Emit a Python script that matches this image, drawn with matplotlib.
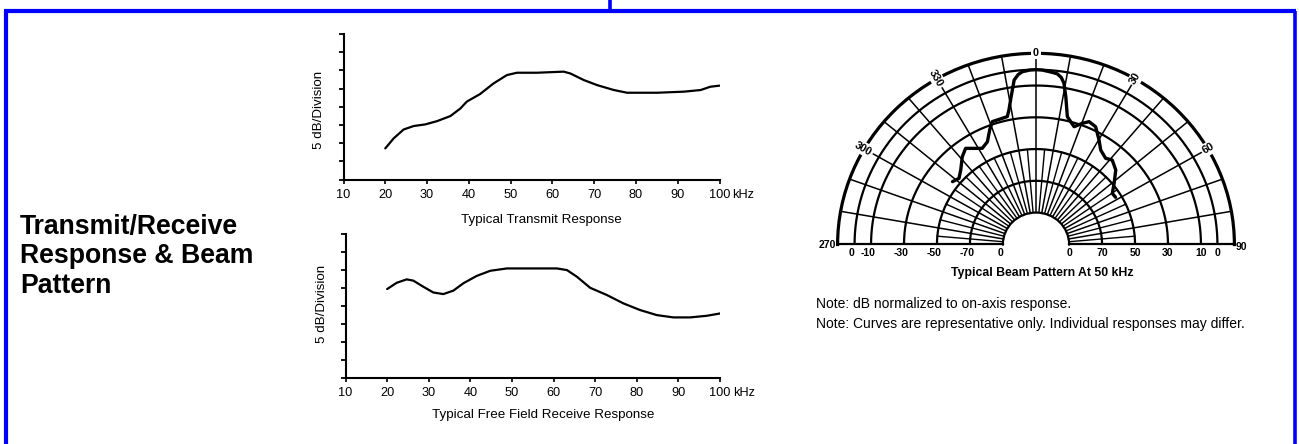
import matplotlib
matplotlib.use("Agg")
import matplotlib.pyplot as plt
import numpy as np
from matplotlib.lines import Line2D

W, H = 1299, 444
plt.rcParams['font.family'] = ['Liberation Sans', 'DejaVu Sans']

# ---------------- data ----------------
freq_ticks = [10, 20, 30, 40, 50, 60, 70, 80, 90, 100]
freq_tick_labels = ['10', '20', '30', '40', '50', '60', '70', '80', '90', '100']

# Typical Transmit Response (level in divisions, 5 dB/division)
tx_freq = [20, 22, 24.4, 26.8, 29.6, 32.4, 35.6, 38, 39.5, 42.7, 45.9, 49.1, 51.5,
           56.3, 62.7, 64.3, 67.5, 70.7, 74.7, 77.9, 85.1, 91.5, 95.5, 97.8, 100]
tx_level = [1.71, 2.26, 2.75, 2.94, 3.03, 3.21, 3.49, 3.91, 4.28, 4.70, 5.28, 5.74, 5.87,
            5.87, 5.93, 5.83, 5.47, 5.19, 4.92, 4.77, 4.77, 4.83, 4.92, 5.10, 5.16]

# Typical Free Field Receive Response
rx_freq = [20, 22.3, 24.7, 26.3, 28.7, 31.1, 33.5, 35.9, 38.3, 41.5, 44.8, 48.8, 54.4,
           60.8, 63.2, 65.6, 68.8, 72.8, 76.8, 80.8, 84.8, 88.8, 92.8, 96.8, 100]
rx_level = [4.93, 5.28, 5.47, 5.40, 5.06, 4.74, 4.65, 4.84, 5.25, 5.66, 5.95, 6.08, 6.08,
            6.08, 5.99, 5.62, 5.00, 4.60, 4.13, 3.76, 3.48, 3.35, 3.35, 3.44, 3.57]

# Typical Beam Pattern At 50 kHz (angle in degrees, level in dB)
beam_angle = [-52, -48.3, -44.2, -39, -35.2, -31.9, -28.3, -24.5, -21.3, -18.9, -15.9,
              -12.2, -11, -9.2, -7.3, -5.8, -4.4, -2, 0, 2, 4.4, 6.8, 8.3, 9.5, 11, 13.3,
              17.3, 20.2, 22.6, 26, 30.2, 33.4, 37.9, 41, 45.9, 50.9, 55.2, 58.4]
beam_db = [-45.8, -47.5, -44.6, -39.0, -36.0, -38.8, -41.3, -39.0, -32.7, -28.3, -28.2,
           -27.7, -23.9, -15.8, -5.7, -2.6, -1.0, -0.2, 0.0, -0.2, -1.0, -1.8, -3.8, -7.2,
           -15.3, -27.4, -32.4, -28.8, -26.3, -27.6, -34.0, -38.8, -41.3, -39.6, -42.7,
           -49.0, -53.7, -53.4]

ring_db = [0, -10, -30, -50, -70]
ring_label_db = [0, -10, -30, -50, -70, -90]
ring_labels_left = ['0', '-10', '-30', '-50', '-70', '0']
ring_labels_right = ['0', '10', '30', '50', '70', '0']
angle_label_pos = [0, 30, 60, -30, -60]
angle_label_txt = ['0', '30', '60', '330', '300']

# ---------------- figure ----------------
fig = plt.figure(figsize=(W / 100, H / 100), dpi=100)


def fx(x):
    return x / W


def fy(y):
    return 1 - y / H


def rect(l, t, r, b):
    return [fx(l), fy(b), (r - l) / W, (b - t) / H]


# blue frame
blue = (0, 0, 1)
frame_lines = [([6, 6], [11, 445], 3.0), ([1294.5, 1294.5], [11, 445], 2.6),
               ([4, 1296], [11, 11], 3.0), ([610, 610], [0, 11], 2.6)]
for xs, ys, lw in frame_lines:
    fig.add_artist(Line2D([fx(v) for v in xs], [fy(v) for v in ys],
                          color=blue, lw=lw, transform=fig.transFigure,
                          solid_capstyle='butt'))

# left title
fig.text(fx(20), fy(214), 'Transmit/Receive\nResponse & Beam\nPattern',
         fontsize=19.2, fontweight='bold', ha='left', va='top', linespacing=1.17)


def resp_chart(box, freqs, levels, title, title_xy, ylab_xy):
    l, t, r, b = box
    ax = fig.add_axes(rect(l, t, r, b))
    ax.plot(freqs, levels, color='black', lw=1.6, solid_capstyle='round',
            solid_joinstyle='round')
    ax.set_xlim(10, 100)
    ax.set_ylim(0, 8)
    for s in ['top', 'right']:
        ax.spines[s].set_visible(False)
    for s in ['left', 'bottom']:
        ax.spines[s].set_linewidth(1.5)
    ax.set_yticks(range(9))
    ax.set_yticklabels([])
    ax.tick_params(axis='y', direction='out', length=3.5, width=1.3)
    ax.set_xticks(freq_ticks)
    ax.set_xticklabels(freq_tick_labels)
    ax.tick_params(axis='x', direction='out', length=3, width=1.2, pad=3.5,
                   labelsize=9.2)
    ax.patch.set_alpha(0)
    fig.text(fx(r + 13), fy(b + 15.5), 'kHz', fontsize=9.2, ha='left', va='center')
    fig.text(fx(title_xy[0]), fy(title_xy[1]), title, fontsize=9.6, ha='center',
             va='center')
    fig.text(fx(ylab_xy[0]), fy(ylab_xy[1]), '5 dB/Division', fontsize=9.6,
             rotation=90, ha='center', va='center')
    return ax


resp_chart((343.5, 34, 719.5, 179.5), tx_freq, tx_level,
           'Typical Transmit Response', (541.7, 220), (318.5, 110))
resp_chart((345.5, 234, 720, 377.5), rx_freq, rx_level,
           'Typical Free Field Receive Response', (543.3, 415), (321.7, 304))

# ---------------- polar beam pattern ----------------
# half-disk: centre at (1036, 244.5) px, horizontal radius 198.4 px, vertical 191.2 px
r_min, r_max, r_orig = -90, 10.3, -110.1
half_h = 191.2
pax = fig.add_axes(rect(837.6, 244.5 - 1.5 * half_h, 1234.4, 244.5 + 0.5 * half_h),
                   projection='polar')
pax.set_theta_zero_location('N')
pax.set_theta_direction(-1)
pax.set_thetamin(-90)
pax.set_thetamax(90)
pax.set_rlim(r_min, r_max)
pax.set_rorigin(r_orig)
pax.set_aspect('auto')
pax.grid(False)
pax.set_xticks([])
pax.set_yticks([])
pax.spines['polar'].set_linewidth(2.3)
pax.spines['start'].set_linewidth(1.6)
pax.spines['end'].set_linewidth(1.6)
pax.spines['inner'].set_linewidth(1.6)

th = np.deg2rad(np.linspace(-90, 90, 361))
for d in ring_db:
    pax.plot(th, np.full_like(th, d), color='black', lw=1.6, zorder=2)
for a in range(-80, 90, 10):
    pax.plot([np.deg2rad(a)] * 2, [r_min, r_max], color='black', lw=1.1, zorder=2)
for a in range(-85, 90, 10):
    pax.plot([np.deg2rad(a)] * 2, [r_min, -50], color='black', lw=1.0, zorder=2)

pax.plot(np.deg2rad(beam_angle), beam_db, color='black', lw=2.4, zorder=4,
         solid_joinstyle='round', solid_capstyle='round')

lab_kw = dict(fontsize=7.5, fontweight='bold', ha='center', va='center',
              textcoords='offset points', annotation_clip=False)
for d, tl, tr in zip(ring_label_db, ring_labels_left, ring_labels_right):
    pax.annotate(tl, xy=(np.deg2rad(-90), d), xytext=(-2, -6), **lab_kw)
    pax.annotate(tr, xy=(np.deg2rad(90), d), xytext=(0, -6), **lab_kw)

for a, t in zip(angle_label_pos, angle_label_txt):
    rot = 0 if a == 0 else (90 - a if a > 0 else -(90 + a))
    pax.text(np.deg2rad(a), r_max + 0.5, t, fontsize=7.8, fontweight='bold',
             ha='center', va='center', rotation=rot, rotation_mode='anchor',
             zorder=5,
             bbox=dict(boxstyle='square,pad=0.15', fc='white', ec='none'))
pax.annotate('90', xy=(np.deg2rad(90), r_max), xytext=(1, -1.5),
             fontsize=7.5, fontweight='bold', ha='left', va='center',
             textcoords='offset points', annotation_clip=False)
pax.annotate('270', xy=(np.deg2rad(-90), r_max), xytext=(-1, 0),
             fontsize=7.5, fontweight='bold', ha='right', va='center',
             textcoords='offset points', annotation_clip=False)

fig.text(fx(1042), fy(273), 'Typical Beam Pattern At 50 kHz', fontsize=8.8,
         fontweight='bold', ha='center', va='center')
fig.text(fx(816.5), fy(304), 'Note: dB normalized to on-axis response.',
         fontsize=10, ha='left', va='center')
fig.text(fx(816.5), fy(324),
         'Note: Curves are representative only. Individual responses may differ.',
         fontsize=10, ha='left', va='center')

fig.savefig('out.png', dpi=100)
